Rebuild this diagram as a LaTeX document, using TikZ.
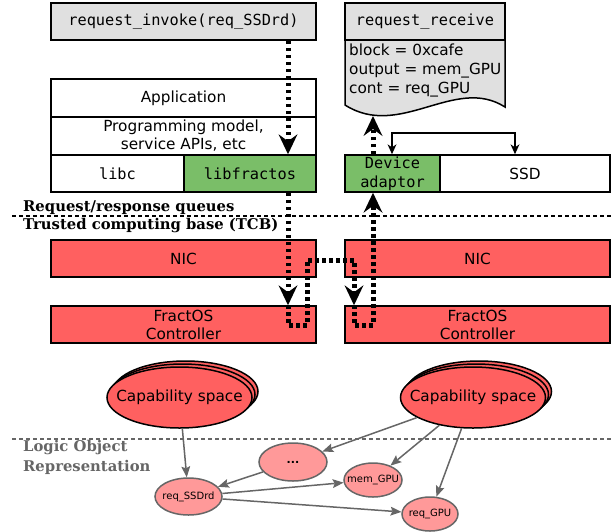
\documentclass[tikz,border=0pt]{standalone}
\usepackage{fontspec}
\setmainfont{DejaVu Sans}
\newfontfamily\monof{DejaVu Sans Mono}
\newfontfamily\seriff{DejaVu Serif}
\usetikzlibrary{arrows.meta,shapes.geometric,calc}
\definecolor{boxgray}{RGB}{224,224,224}
\definecolor{fgreen}{RGB}{122,190,104}
\definecolor{fred}{RGB}{255,96,96}
\definecolor{lred}{RGB}{255,153,153}
\definecolor{edgegray}{RGB}{102,102,102}
\tikzset{
  box/.style={draw=black, line width=1.5pt, inner sep=0pt, minimum height=37pt,
    font=\fontsize{15.3}{18}\selectfont, align=center},
  mono/.style={font=\monof\fontsize{15.3}{19}\selectfont},
  dotline/.style={line width=5pt, dash pattern=on 3.5pt off 3.5pt},
  dotarrow/.style={dotline, -{Stealth[length=20pt,width=19pt,inset=7pt,line width=0pt]}},
  brarrow/.style={line width=1.5pt, {Stealth[length=10pt,width=9pt,inset=3pt,line width=0pt]}-{Stealth[length=10pt,width=9pt,inset=3pt,line width=0pt]}},
  garrow/.style={draw=edgegray, line width=1.5pt, -{Stealth[length=11pt,width=9pt,inset=2pt,line width=0pt]}},
  sepline/.style={line width=1.3pt, dash pattern=on 4pt off 3pt},
  capell/.style={ellipse, draw=black, line width=1.5pt, fill=fred, minimum width=145pt, minimum height=61pt, inner sep=0pt},
  sell/.style={ellipse, draw=edgegray, line width=1.5pt, fill=lred, inner sep=0pt},
  smalltext/.style={font=\fontsize{10}{12}\selectfont},
  captext/.style={font=\fontsize{15.3}{18}\selectfont},
  seplabel/.style={anchor=west, inner sep=0pt, font=\seriff\bfseries\fontsize{14.8}{16}\selectfont}
}
\begin{document}
\begin{tikzpicture}[x=1pt,y=-1pt]
\useasboundingbox (0,0) rectangle (613,531);

% top boxes
\node[box,mono,fill=boxgray,minimum width=265pt] (inv) at (183.5,21.5) {request\_invoke(req\_SSDrd)};
\draw[line width=1.5pt, fill=boxgray] (345,40) -- (505,40) -- (505,107)
  .. controls (455,75) and (400,140) .. (345,105) -- cycle;
\node[box,mono,fill=boxgray,minimum width=160pt] (recv) at (425,21.5) {request\_receive};
\node[anchor=north west, inner sep=0pt, align=left, font=\fontsize{15.3}{19}\selectfont] (doctext) at (349,43.5)
  {block = 0xcafe\\output = mem\_GPU\\cont = req\_GPU};
\coordinate (docb) at (373,116);

% application stack
\node[box,minimum width=265pt,minimum height=38pt] (app) at (183.5,98) {Application};
\node[box,minimum width=265pt,minimum height=38pt] (prog) at (183.5,136) {Programming model,\\service APIs, etc};
\node[box,mono,minimum width=133pt] (libc) at (117.5,173.5) {libc};
\node[box,mono,fill=fgreen,minimum width=132pt] (libf) at (250,173.5) {libfractos};
\node[box,mono,fill=fgreen,minimum width=95pt] (dev) at (392.5,173.5) {Device\\adaptor};
\node[box,minimum width=170pt] (ssd) at (525,173.5) {SSD};

% separator 1
\coordinate (s1a) at (12,216);
\coordinate (s1b) at (613,216);
\draw[sepline] (s1a) -- (s1b);
\node[seplabel] (rrq) at (23,207.5) {Request/response queues};
\node[seplabel] (tcb) at (23,226) {Trusted computing base (TCB)};

% NIC / controller
\node[box,fill=fred,minimum width=265pt] (nicL) at (183.5,258.5) {NIC};
\node[box,fill=fred,minimum width=265pt] (nicR) at (477.5,258.5) {NIC};
\node[box,fill=fred,minimum width=265pt] (ctlL) at (183.5,324.5) {FractOS\\Controller};
\node[box,fill=fred,minimum width=265pt] (ctlR) at (477.5,324.5) {FractOS\\Controller};

% dotted request path
\coordinate (xA) at (288,0);
\coordinate (p1) at (288,325);
\coordinate (p2) at (307,325);
\coordinate (p3) at (307,260);
\coordinate (p4) at (354,260);
\coordinate (p5) at (354,325);
\coordinate (p6) at (373,325);
\draw[dotarrow] (inv.south -| xA) -- (libf.north -| xA);
\draw[dotarrow] (libf.south -| xA) -- (ctlL.north -| xA);
\draw[dotarrow] (ctlL.north -| xA) -- (p1) -- (p2) -- (p3) -- (p4) -- (ctlR.north -| p4);
\draw[dotarrow] (ctlR.north -| p4) -- (p5) -- (p6) -- (dev.south -| p6);
\draw[dotarrow] (dev.north -| p6) -- (docb);

% device <-> SSD
\coordinate (b1) at (392,133);
\coordinate (b2) at (515,133);
\draw[brarrow] (dev.north -| b1) -- (b1) -- (b2) -- (ssd.north -| b2);

% capability spaces
\node[capell] (capL3) at (185.5,391.5) {};
\node[capell] (capL2) at (182.5,394.5) {};
\node[capell, label={[name=capLt,captext]center:Capability space}] (capL) at (179.5,397.5) {};
\node[capell] (capR3) at (479,391.5) {};
\node[capell] (capR2) at (476,394.5) {};
\node[capell, label={[name=capRt,captext]center:Capability space}] (capR) at (473,397.5) {};

% separator 2
\coordinate (s2a) at (12,439);
\coordinate (s2b) at (613,439);
\draw[sepline, draw=edgegray] (s2a) -- (s2b);
\node[seplabel, text=edgegray] (lor1) at (23,447.5) {Logic Object};
\node[seplabel, text=edgegray] (lor2) at (23,467) {Representation};

% logic objects
\node[sell, minimum width=68pt, minimum height=38pt, label={[name=dotst,font=\bfseries\fontsize{11}{12}\selectfont]center:...}] (dots) at (293,462) {};
\node[sell, minimum width=58pt, minimum height=34pt, label={[name=memt,smalltext]center:mem\_GPU}] (mem) at (373,480) {};
\node[sell, minimum width=67pt, minimum height=37pt, label={[name=ssdrdt,smalltext]center:req\_SSDrd}] (ssdrd) at (188.5,496.5) {};
\node[sell, minimum width=56pt, minimum height=34pt, label={[name=reqgput,smalltext]center:req\_GPU}] (reqgpu) at (430,514) {};

\draw[garrow] (capL) -- (ssdrd);
\draw[garrow] (capR) -- (dots);
\draw[garrow] (capR) -- (mem);
\draw[garrow] (capR) -- (reqgpu);
\draw[garrow] (dots) -- (ssdrd);
\draw[garrow] (ssdrd) -- (mem);
\draw[garrow] (ssdrd) -- (reqgpu);
\end{tikzpicture}
\end{document}
